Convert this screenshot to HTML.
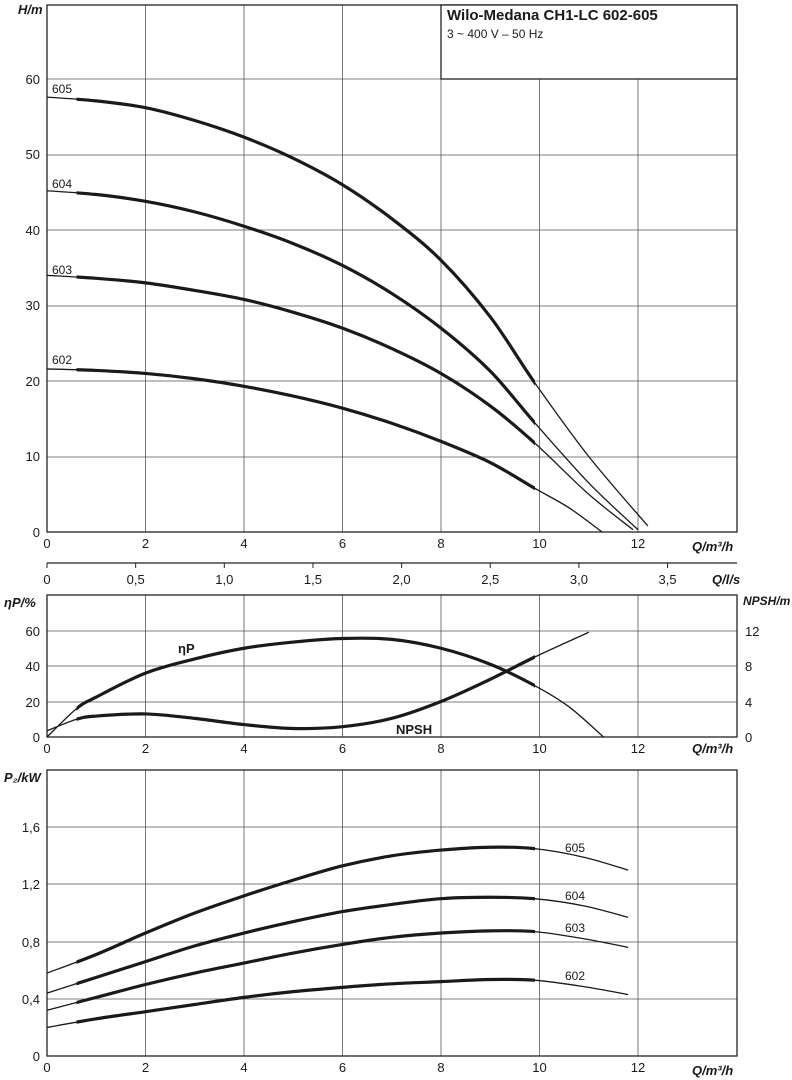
<!DOCTYPE html><html><head><meta charset="utf-8"><style>body{margin:0;background:#fff}svg{display:block;font-family:"Liberation Sans",sans-serif}</style></head><body>
<svg id="s" width="792" height="1080" xmlns="http://www.w3.org/2000/svg">
<defs><clipPath id="c"><rect x="76.5" y="0" width="458.5" height="1080"/></clipPath></defs>
<g id="g"></g>
<g fill="#1a1a1a" font-size="13" font-family="Liberation Sans Narrow, Liberation Sans, sans-serif">
<text x="18" y="14" font-style="italic" font-weight="bold">H/m</text>
<text x="40" y="84" text-anchor="end">60</text><text x="40" y="159" text-anchor="end">50</text><text x="40" y="235" text-anchor="end">40</text><text x="40" y="310" text-anchor="end">30</text><text x="40" y="386" text-anchor="end">20</text><text x="40" y="461" text-anchor="end">10</text><text x="40" y="537" text-anchor="end">0</text>
<text x="447" y="20" font-weight="bold" font-size="15">Wilo-Medana CH1-LC 602-605</text>
<text x="447" y="38" font-size="12">3 ~ 400 V – 50 Hz</text>
<text x="52" y="93" font-size="12">605</text><text x="52" y="188" font-size="12">604</text><text x="52" y="274" font-size="12">603</text><text x="52" y="364" font-size="12">602</text>
<text x="692" y="551" font-style="italic" font-weight="bold">Q/m³/h</text>
<text x="712" y="584" font-style="italic" font-weight="bold">Q/l/s</text>
<text x="4" y="607" font-style="italic" font-weight="bold">ηP/%</text>
<text x="743" y="605" font-style="italic" font-weight="bold" font-size="12">NPSH/m</text>
<text x="178" y="653" font-weight="bold">ηP</text><text x="396" y="734" font-weight="bold">NPSH</text>
<text x="40" y="636" text-anchor="end">60</text><text x="40" y="671" text-anchor="end">40</text><text x="40" y="707" text-anchor="end">20</text><text x="40" y="742" text-anchor="end">0</text>
<text x="745" y="636">12</text><text x="745" y="671">8</text><text x="745" y="707">4</text><text x="745" y="742">0</text>
<text x="692" y="753" font-style="italic" font-weight="bold">Q/m³/h</text>
<text x="4" y="782" font-style="italic" font-weight="bold">P₂/kW</text>
<text x="40" y="832" text-anchor="end">1,6</text><text x="40" y="889" text-anchor="end">1,2</text><text x="40" y="947" text-anchor="end">0,8</text><text x="40" y="1004" text-anchor="end">0,4</text><text x="40" y="1061" text-anchor="end">0</text>
<text x="565" y="852" font-size="12">605</text><text x="565" y="900" font-size="12">604</text><text x="565" y="932" font-size="12">603</text><text x="565" y="980" font-size="12">602</text>
<text x="692" y="1075" font-style="italic" font-weight="bold">Q/m³/h</text>
</g>
</svg>
<script>
const NS="http://www.w3.org/2000/svg",G=document.getElementById('g');
function el(t,a){const e=document.createElementNS(NS,t);for(const k in a)e.setAttribute(k,a[k]);G.appendChild(e);return e;}
function txt(x,y,s){const e=el('text',{x,y,'font-size':13,fill:'#1a1a1a','text-anchor':'middle','font-family':'Liberation Sans Narrow, Liberation Sans, sans-serif'});e.textContent=s;}
const X=q=>47+q*49.25;
function panel(top,bot,hlines){
 for(let i=1;i<7;i++)el('line',{x1:X(2*i),y1:top,x2:X(2*i),y2:bot,stroke:'#555','stroke-width':0.8});
 hlines.forEach(y=>el('line',{x1:47,y1:y,x2:737,y2:y,stroke:'#555','stroke-width':0.8}));
 el('rect',{x:47,y:top,width:690,height:bot-top,fill:'none',stroke:'#222','stroke-width':1.3});
 for(let i=0;i<7;i++)txt(X(2*i),bot+16,String(2*i));
}
panel(5,532,[79,155,230,306,381,457]);
el('rect',{x:441,y:5,width:296,height:74,fill:'#fff',stroke:'#222','stroke-width':1.3});
el('line',{x1:47,y1:563,x2:737,y2:563,stroke:'#222','stroke-width':1.3});
for(let i=0;i<=7;i++){const x=X(i*0.5*3.6);el('line',{x1:x,y1:563,x2:x,y2:568,stroke:'#222'});txt(x,584,['0','0,5','1,0','1,5','2,0','2,5','3,0','3,5'][i]);}
panel(595,737,[631,666,702]);
panel(770,1056,[827,884,942,999]);
function cr(pts){let d='M'+pts[0].join(',');for(let i=0;i<pts.length-1;i++){const p0=pts[i-1]||pts[i],p1=pts[i],p2=pts[i+1],p3=pts[i+2]||p2;d+=` C${p1[0]+(p2[0]-p0[0])/6},${p1[1]+(p2[1]-p0[1])/6} ${p2[0]-(p3[0]-p1[0])/6},${p2[1]-(p3[1]-p1[1])/6} ${p2[0]},${p2[1]}`;}return d;}
function curve(data,Y){const d=cr(data.map(p=>[X(p[0]),Y(p[1])]));
 el('path',{d,fill:'none',stroke:'#1a1a1a','stroke-width':1.3});
 el('path',{d,fill:'none',stroke:'#1a1a1a','stroke-width':3.2,'clip-path':'url(#c)'});}
const YH=h=>532-h*7.55;
curve([[0,57.6],[1,57.1],[2,56.2],[3,54.5],[4,52.3],[5,49.5],[6,46],[7,41.5],[8,36],[9,28.5],[9.9,19.8],[11,10],[12.2,0.8]],YH);
curve([[0,45.2],[1,44.7],[2,43.8],[3,42.4],[4,40.5],[5,38.2],[6,35.3],[7,31.6],[8,27],[9,21.3],[9.9,14.5],[11,6.5],[12,0.3]],YH);
curve([[0,34],[1,33.6],[2,33],[3,32],[4,30.8],[5,29.1],[6,27],[7,24.3],[8,21],[9,16.7],[9.9,11.8],[11,5],[11.9,0.3]],YH);
curve([[0,21.6],[1,21.4],[2,21],[3,20.3],[4,19.3],[5,18],[6,16.4],[7,14.4],[8,12],[9,9.2],[9.9,5.8],[10.6,3.2],[11.27,0]],YH);
const YE=e=>737-e*1.775;
curve([[0,0],[0.6,16],[1,22.5],[2,36],[3,44],[4,50],[5,53.5],[6,55.5],[7,55],[8,50],[9,41],[9.9,29],[10.6,17],[11.3,0]],YE);
curve([[0,3.5],[0.6,10],[1,11.8],[2,13],[3,10.5],[4,7],[5,4.8],[6,5.8],[7,10.5],[8,20],[9,32.5],[9.9,45],[11,59]],YE);
const YP=p=>1056-p*143;
curve([[0,.58],[1,.71],[2,.86],[3,1.0],[4,1.12],[5,1.23],[6,1.33],[7,1.4],[8,1.44],[9,1.46],[9.9,1.45],[10.9,1.39],[11.8,1.3]],YP);
curve([[0,.44],[1,.55],[2,.66],[3,.77],[4,.86],[5,.94],[6,1.01],[7,1.06],[8,1.1],[9,1.11],[9.9,1.1],[10.9,1.05],[11.8,.97]],YP);
curve([[0,.32],[1,.41],[2,.5],[3,.58],[4,.65],[5,.72],[6,.78],[7,.83],[8,.86],[9,.875],[9.9,.87],[10.9,.82],[11.8,.76]],YP);
curve([[0,.2],[1,.26],[2,.31],[3,.36],[4,.41],[5,.45],[6,.48],[7,.505],[8,.52],[9,.535],[9.9,.53],[10.9,.485],[11.8,.43]],YP);
</script>
</body></html>
